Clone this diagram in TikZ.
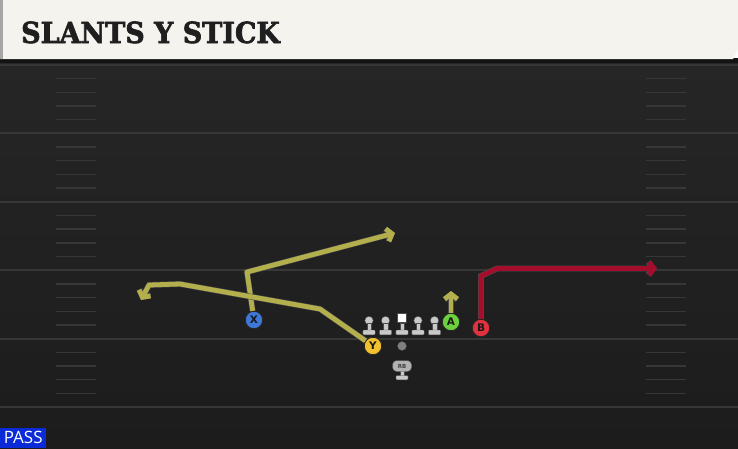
\documentclass[tikz,border=0pt]{standalone}
\usepackage{fontspec}
\usetikzlibrary{arrows.meta,positioning}
\newfontfamily\titlefont{DejaVu Serif}[FakeStretch=0.93, BoldFeatures={FakeBold=2.2}]
\newfontfamily\labelfont{DejaVu Sans}
\newfontfamily\badgefont{Open Sans}
\definecolor{fieldtop}{HTML}{262626}
\definecolor{fieldbot}{HTML}{1C1C1C}
\definecolor{yardline}{HTML}{373737}
\definecolor{barcream}{HTML}{F5F3EE}
\definecolor{routeolive}{HTML}{B2AF4C}
\definecolor{routered}{HTML}{A50D2C}
\definecolor{xblue}{HTML}{3D78D8}
\definecolor{yyellow}{HTML}{F2C12E}
\definecolor{agreen}{HTML}{6CD13C}
\definecolor{bred}{HTML}{E0323E}
\definecolor{passblue}{HTML}{0B2BD9}
\definecolor{linegray}{HTML}{C9C9C9}

\tikzset{
  player/.style={circle, draw=black!85, line width=0.9pt, minimum size=17.5pt,
    inner sep=0pt, font=\labelfont\bfseries\fontsize{10.5}{10.5}\selectfont, text=black!90},
  route/.style={line width=4.8pt, line join=round,
    preaction={draw=black!70, line width=5.8pt},
    -{Straight Barb[length=5pt,width=13pt]}},
  hashmark/.style={draw=yardline, line width=1.4pt},
  blocker/.style={fill=linegray, draw=black!70, line width=0.4pt}
}

\begin{document}
\begin{tikzpicture}[x=1pt,y=-1pt]
  \useasboundingbox (0,0) rectangle (738,448);
  % field
  \shade[top color=fieldtop, bottom color=fieldbot] (0,60) rectangle (738,448);
  \foreach \yl in {65,133.4,201.8,270.2,338.6,407}
    \draw[yardline, line width=2pt] (0,\yl)--(738,\yl);
  \foreach \yl in {65,133.4,201.8,270.2,338.6}
    \foreach \k in {1,...,4}{
      \draw[hashmark] (56,\yl+\k*13.68)--(96,\yl+\k*13.68);
      \draw[hashmark] (646,\yl+\k*13.68)--(686,\yl+\k*13.68);
    }
  % title bar
  \fill[black!92] (0,58)--(738,58)--(738,63)--(0,63)--cycle;
  \fill[barcream] (0,0)--(738,0)--(738,49)--(733,59)--(0,59)--cycle;
  \fill[black!35] (0,0) rectangle (3,59);
  \node[anchor=base west, inner sep=0pt, text=black!88,
    font=\titlefont\bfseries\fontsize{29}{29}\selectfont] (title) at (21,43) {SLANTS Y STICK};
  % badge
  \node[anchor=south west, fill=passblue, text=white, inner sep=0pt,
    minimum width=46pt, minimum height=20pt,
    font=\badgefont\fontsize{17}{17}\selectfont] (badge) at (0,448) {PASS};

  % offensive line
  \foreach \x in {369,385.5,418,434.5}{
    \fill[blocker] (\x,320.5) circle (4.2);
  }
  \fill[white, draw=black!70, line width=0.4pt] (397.5,313.5) rectangle (406.5,322.5);
  \foreach \x in {369,385.5,402,418,434.5}{
    \fill[blocker] (\x-2.2,323.5) rectangle (\x+2.2,330);
    \fill[blocker, rounded corners=0.8pt] (\x-6.2,330) rectangle (\x+6.2,334.8);
  }
  % quarterback and back
  \node[circle, fill=black!50, draw=black!70, minimum size=9pt, inner sep=0pt] (QB) at (402,346) {};
  \fill[blocker] (399.8,370) rectangle (404.2,376);
  \fill[blocker, rounded corners=0.8pt] (396,375.5) rectangle (408,379.8);
  \node[fill=black!30, draw=black!70, line width=0.4pt, rounded corners=4pt,
    minimum width=19pt, minimum height=11pt, inner sep=0pt,
    font=\labelfont\bfseries\fontsize{5.5}{5.5}\selectfont, text=black!75] (RB) at (402,366) {RB};

  % players
  \node[player, fill=xblue] (X) at (254,320) {X};
  \node[player, fill=yyellow] (Y) at (373,346) {Y};
  \node[player, fill=agreen] (A) at (451,322) {A};
  \node[player, fill=bred] (B) at (481,328) {B};

  % route points
  \coordinate (xbreak) at (247,272);
  \coordinate (xend) at (395,233);
  \coordinate (ycut) at (320,309);
  \coordinate (ybend) at (180,284);
  \coordinate (ycorner) at (149,285);
  \coordinate (yend) at (141,300);
  \coordinate (aend) at (451,291);
  \coordinate (bbreak) at (481,276);
  \coordinate (bturn) at (497,268.5);
  \coordinate (bend) at (657,268.5);

  % routes
  \draw[route, routeolive] (X)--(xbreak)--(xend);
  \draw[route, routeolive] (Y)--(ycut)--(ybend)--(ycorner)--(yend);
  \draw[route, routeolive] (A)--(aend);
  \draw[route, routered] (B)--(bbreak)--(bturn)--(bend);
\end{tikzpicture}
\end{document}
